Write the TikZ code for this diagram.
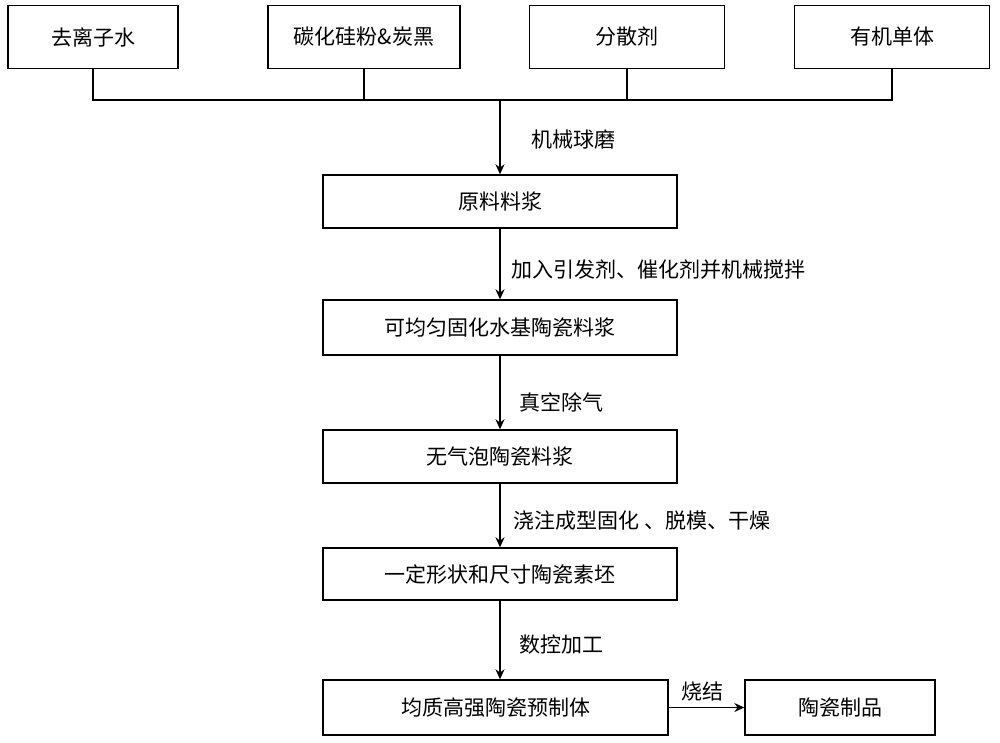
\documentclass[tikz,border=0pt]{standalone}
\usepackage{fontspec}
\setmainfont{Noto Sans CJK SC}
\usetikzlibrary{arrows.meta}
\begin{document}
\begin{tikzpicture}[x=1pt,y=-1pt,
  bx/.style={draw,line width=1.4pt,inner sep=0pt,font=\fontsize{21}{24}\selectfont},
  lb/.style={font=\fontsize{21}{24}\selectfont,anchor=west},
  ar/.style={line width=1.4pt,-{Stealth[length=10pt,width=9pt]}},
  ln/.style={line width=1.4pt}]
\useasboundingbox[fill=white] (0,0) rectangle (1000,742);
\node[bx,minimum width=170,minimum height=63] (a) at (93,37) {去离子水};
\node[bx,minimum width=192,minimum height=63] (b) at (364,37) {碳化硅粉\&炭黑};
\node[bx,minimum width=195,minimum height=63] (c) at (627,37) {分散剂};
\node[bx,minimum width=195,minimum height=63] (d) at (892,37) {有机单体};
\coordinate (j) at (500,100);
\draw[ln] (a.south) -- (93,100) -- (892,100) -- (d.south);
\draw[ln] (b.south) -- (364,100);
\draw[ln] (c.south) -- (627,100);
\node[bx,minimum width=354,minimum height=53] (s1) at (500,201.5) {原料料浆};
\node[bx,minimum width=354,minimum height=55] (s2) at (500,327.5) {可均匀固化水基陶瓷料浆};
\node[bx,minimum width=354,minimum height=53] (s3) at (500,456.5) {无气泡陶瓷料浆};
\node[bx,minimum width=354,minimum height=52] (s4) at (500,574) {一定形状和尺寸陶瓷素坯};
\node[bx,minimum width=345,minimum height=55] (s5) at (495.5,707.5) {均质高强陶瓷预制体};
\node[bx,minimum width=190,minimum height=55] (s6) at (840,707.5) {陶瓷制品};
\draw[ar] (j) -- (s1.north);
\draw[ar] (s1.south) -- (s2.north);
\draw[ar] (s2.south) -- (s3.north);
\draw[ar] (s3.south) -- (s4.north);
\draw[ar] (s4.south) -- (s5.north -| s4.south);
\draw[ar] (s5.east) -- (s6.west);
\node[lb] (l1) at (528,140) {机械球磨};
\node[lb] (l2) at (508,270) {加入引发剂、催化剂并机械搅拌};
\node[lb] (l3) at (516,402) {真空除气};
\node[lb] (l4) at (510,521) {浇注成型固化 、脱模、干燥};
\node[lb] (l5) at (516,645) {数控加工};
\node[lb] (l6) at (678,692) {烧结};
\end{tikzpicture}
\end{document}
